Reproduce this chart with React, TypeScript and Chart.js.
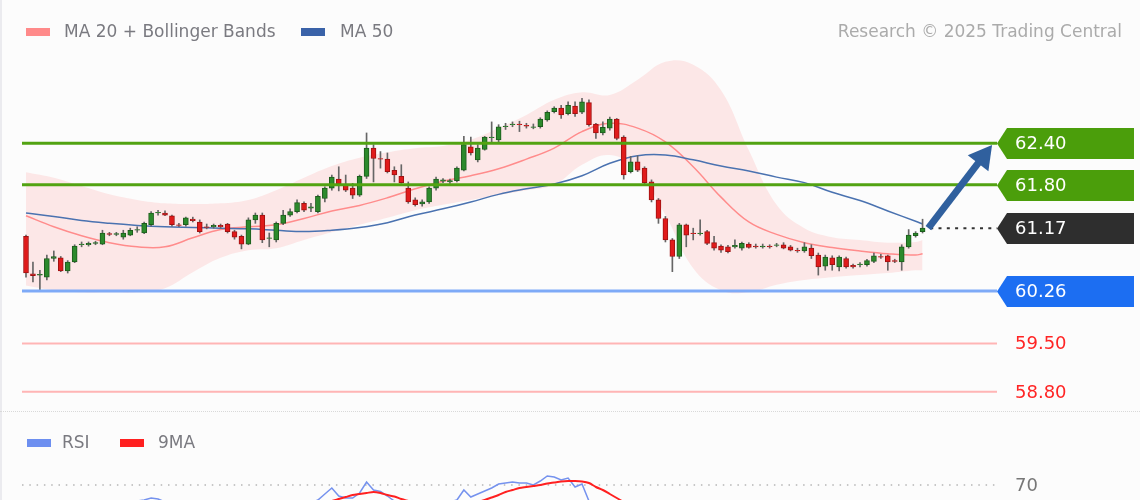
import React, { useEffect, useRef } from "react";
import { Chart, registerables } from "chart.js";

Chart.register(...registerables);

// ---------------- data ----------------
const candleOpen = [
  61.05, 60.51, 60.49, 60.46, 60.73, 60.74, 60.55, 60.68, 60.93, 60.93,
  60.95, 60.94, 61.09, 61.08, 61.04, 61.07, 61.14, 61.10, 61.22, 61.39,
  61.39, 61.35, 61.22, 61.22, 61.30, 61.26, 61.19, 61.19, 61.21, 61.23,
  61.12, 61.05, 60.94, 61.29, 61.36, 61.02, 61.00, 61.24, 61.36, 61.41,
  61.53, 61.46, 61.41, 61.60, 61.75, 61.88, 61.80, 61.75, 61.65, 61.92,
  62.33, 62.18, 62.17, 62.01, 61.92, 61.75, 61.58, 61.52, 61.55, 61.75,
  61.85, 61.84, 61.86, 62.01, 62.35, 62.16, 62.31, 62.48, 62.45, 62.64,
  62.67, 62.68, 62.66, 62.63, 62.64, 62.74, 62.86, 62.91, 62.83, 62.94,
  62.85, 62.99, 62.68, 62.55, 62.62, 62.75, 62.49, 61.99, 62.13, 62.04,
  61.84, 61.58, 61.31, 61.00, 60.76, 61.22, 61.10, 61.09, 61.12, 60.96,
  60.91, 60.90, 60.90, 60.88, 60.94, 60.91, 60.90, 60.91, 60.92, 60.93,
  60.90, 60.85, 60.84, 60.88, 60.78, 60.62, 60.74, 60.61, 60.73, 60.63,
  60.64, 60.64, 60.69, 60.76, 60.77, 60.70, 60.68, 60.90, 61.06, 61.12,
];
const candleHigh = [
  61.07, 60.68, 60.56, 60.78, 60.84, 60.76, 60.70, 60.93, 60.97, 60.97,
  60.98, 61.14, 61.11, 61.11, 61.14, 61.17, 61.19, 61.26, 61.41, 61.43,
  61.42, 61.36, 61.24, 61.33, 61.33, 61.29, 61.23, 61.23, 61.23, 61.24,
  61.14, 61.07, 61.32, 61.39, 61.39, 61.10, 61.26, 61.43, 61.45, 61.58,
  61.55, 61.53, 61.65, 61.77, 61.94, 62.06, 61.94, 61.82, 61.94, 62.55,
  62.38, 62.28, 62.26, 62.06, 62.09, 61.84, 61.61, 61.58, 61.77, 61.91,
  61.89, 61.88, 62.06, 62.50, 62.49, 62.38, 62.50, 62.71, 62.67, 62.69,
  62.71, 62.72, 62.69, 62.68, 62.77, 62.87, 62.93, 62.95, 63.00, 63.00,
  63.05, 63.03, 62.69, 62.71, 62.78, 62.76, 62.51, 62.21, 62.22, 62.06,
  61.87, 61.60, 61.34, 61.02, 61.24, 61.23, 61.17, 61.29, 61.14, 61.05,
  60.93, 60.92, 61.00, 60.97, 60.96, 60.94, 60.94, 60.93, 60.95, 60.96,
  60.92, 60.88, 60.96, 60.93, 60.81, 60.78, 60.77, 60.77, 60.75, 60.65,
  60.67, 60.72, 60.81, 60.79, 60.78, 60.72, 60.93, 61.15, 61.12, 61.30,
];
const candleLow = [
  60.46, 60.39, 60.27, 60.42, 60.69, 60.54, 60.52, 60.67, 60.90, 60.91,
  60.93, 60.93, 61.06, 61.06, 61.01, 61.06, 61.11, 61.09, 61.20, 61.36,
  61.35, 61.20, 61.19, 61.20, 61.26, 61.10, 61.16, 61.17, 61.17, 61.10,
  61.01, 60.87, 60.93, 61.24, 60.96, 60.90, 60.97, 61.22, 61.34, 61.39,
  61.41, 61.41, 61.39, 61.55, 61.72, 61.71, 61.70, 61.60, 61.63, 61.89,
  61.84, 62.04, 61.97, 61.84, 61.82, 61.53, 61.49, 61.49, 61.53, 61.72,
  61.83, 61.82, 61.84, 62.00, 62.23, 62.13, 62.30, 62.42, 62.41, 62.60,
  62.64, 62.57, 62.62, 62.61, 62.62, 62.72, 62.84, 62.76, 62.81, 62.79,
  62.83, 62.65, 62.47, 62.52, 62.59, 62.45, 61.88, 61.97, 61.99, 61.81,
  61.55, 61.24, 60.97, 60.54, 60.73, 60.90, 61.00, 61.07, 60.93, 60.85,
  60.82, 60.81, 60.88, 60.85, 60.88, 60.88, 60.88, 60.88, 60.90, 60.87,
  60.84, 60.82, 60.82, 60.73, 60.49, 60.56, 60.56, 60.55, 60.59, 60.59,
  60.61, 60.62, 60.67, 60.73, 60.56, 60.67, 60.56, 60.88, 61.04, 61.10,
];
const candleClose = [
  60.52, 60.48, 60.50, 60.73, 60.76, 60.55, 60.68, 60.91, 60.94, 60.95,
  60.96, 61.10, 61.08, 61.09, 61.10, 61.14, 61.15, 61.24, 61.39, 61.40,
  61.36, 61.22, 61.21, 61.32, 61.28, 61.12, 61.18, 61.21, 61.19, 61.12,
  61.04, 60.94, 61.29, 61.36, 61.00, 61.03, 61.24, 61.36, 61.41, 61.54,
  61.43, 61.48, 61.63, 61.75, 61.91, 61.81, 61.72, 61.65, 61.92, 62.33,
  62.18, 62.17, 61.99, 61.94, 61.83, 61.55, 61.51, 61.55, 61.75, 61.88,
  61.87, 61.86, 62.04, 62.38, 62.26, 62.33, 62.49, 62.49, 62.64, 62.65,
  62.68, 62.67, 62.65, 62.64, 62.75, 62.85, 62.91, 62.81, 62.95, 62.83,
  63.00, 62.67, 62.55, 62.63, 62.75, 62.47, 61.94, 62.13, 62.01, 61.83,
  61.58, 61.31, 61.00, 60.76, 61.22, 61.07, 61.09, 61.10, 60.95, 60.88,
  60.85, 60.83, 60.92, 60.95, 60.89, 60.90, 60.91, 60.90, 60.93, 60.88,
  60.85, 60.84, 60.90, 60.77, 60.61, 60.75, 60.64, 60.75, 60.61, 60.61,
  60.65, 60.70, 60.77, 60.75, 60.68, 60.69, 60.90, 61.07, 61.10, 61.17,
];

// moving averages / bands read at these candle positions
const maIndex = [
  0, 4, 8, 12, 16, 20, 24, 28, 32, 36, 40, 44, 48, 52, 56, 60, 64,
  68, 72, 76, 80, 84, 88, 92, 96, 100, 104, 108, 112, 116, 120, 124, 128, 129,
];
const ma20 = [
  61.35, 61.19, 61.06, 60.96, 60.90, 60.90, 61.03, 61.15, 61.19, 61.22, 61.31, 61.42, 61.50, 61.61, 61.74, 61.85, 61.93,
  62.03, 62.17, 62.33, 62.57, 62.69, 62.62, 62.42, 62.06, 61.62, 61.26, 61.08, 60.96, 60.89, 60.84, 60.80, 60.78, 60.80,
];
const ma50 = [
  61.39, 61.34, 61.28, 61.24, 61.21, 61.19, 61.18, 61.17, 61.16, 61.14, 61.12, 61.14, 61.18, 61.25, 61.36, 61.45, 61.55,
  61.66, 61.74, 61.81, 61.93, 62.11, 62.22, 62.23, 62.16, 62.07, 62.00, 61.91, 61.83, 61.69, 61.57, 61.42, 61.27, 61.23,
];
const bbUpper = [
  61.98, 61.90, 61.78, 61.66, 61.58, 61.53, 61.52, 61.53, 61.58, 61.72, 61.90, 62.07, 62.19, 62.27, 62.33, 62.36, 62.45,
  62.62, 62.81, 63.03, 63.14, 63.10, 63.32, 63.58, 63.54, 63.17, 62.30, 61.51, 61.17, 61.04, 61.00, 60.96, 60.97, 61.00,
];
const bbLower = [
  60.34, 60.27, 60.24, 60.24, 60.24, 60.30, 60.53, 60.74, 60.85, 60.88, 61.00, 61.11, 61.22, 61.32, 61.43, 61.51, 61.58,
  61.65, 61.72, 61.80, 62.09, 62.23, 62.01, 61.36, 60.59, 60.27, 60.24, 60.35, 60.42, 60.46, 60.49, 60.52, 60.56, 60.56,
];

const rsiValues = [
  40, 35, 33, 42, 44, 40, 44, 50, 50, 51,
  51, 53, 52, 52, 53, 54, 54, 55, 57, 56,
  53, 47, 46, 50, 49, 44, 46, 47, 46, 43,
  40, 37, 50, 52, 44, 44, 50, 53, 54, 54,
  51, 52, 55, 61, 67, 59, 57, 57, 62, 73,
  65, 63.5, 59, 54, 52, 46, 45, 46, 50, 53,
  53, 53, 55, 65, 58, 61, 64, 67, 71, 72,
  73, 72, 72, 70, 74, 79, 78, 75, 77, 68,
  71, 54, 47, 50, 54, 44, 33, 38, 36, 32,
  27, 22, 18, 16, 30, 28, 29, 30, 27, 26,
  26, 25, 28, 30, 29, 29, 30, 30, 31, 30,
  29, 29, 32, 29, 26, 32, 30, 34, 31, 31,
  32, 34, 37, 37, 35, 35, 42, 48, 49, 51,
];
const rsiMa9 = [
  45, 44, 42, 41, 41, 40, 40, 41, 42, 43,
  44, 45, 47, 48, 49, 50, 51, 52, 53, 54,
  54, 53, 52, 51, 51, 50, 49, 48, 47, 47,
  46, 45, 44, 45, 45, 45, 46, 47, 48, 49,
  50, 51, 52, 53, 54, 56, 58, 60, 61, 62,
  63, 62, 60, 58.5, 56, 54, 52, 50, 49, 48,
  48, 49, 50, 51, 52, 53, 55, 57.5, 60, 63,
  65, 67, 68, 69, 70, 71.5, 72.5, 73.5, 74, 74,
  73.5, 72, 68, 65, 61, 57, 53, 49, 45, 42,
  38, 34, 31, 28, 27, 26, 26, 25, 26, 26,
  27, 27, 27, 28, 28, 28, 28, 29, 29, 29,
  29, 30, 30, 30, 29, 30, 30, 30, 30, 31,
  31, 32, 32, 33, 33, 34, 35, 37, 39, 41,
];

const levelPrices = [62.4, 61.8, 61.17, 60.26, 59.5, 58.8];
const levelLabels = ["62.40", "61.80", "61.17", "60.26", "59.50", "58.80"];
const rsiLevel = 70;
const rsiLevelLabel = "70";

// ---------------- styling ----------------
const FONT = "'DejaVu Sans', sans-serif";
const X_MIN = -0.576;
const X_MAX = 139.71;
const LAST_X = 129;

const levelStyles = [
  { line: "#52a312", width: 3, box: "#4b9e0b", text: "#ffffff" },
  { line: "#52a312", width: 3, box: "#4b9e0b", text: "#ffffff" },
  { line: "#333333", width: 2, box: "#2e2e2e", text: "#ffffff", dash: [3, 5.3] },
  { line: "#7eaaf7", width: 3, box: "#1c6ef2", text: "#ffffff" },
  { line: "#ffb5b5", width: 2, box: null, text: "#ff2424" },
  { line: "#ffb5b5", width: 2, box: null, text: "#ff2424" },
];

const overlayPlugin = {
  id: "overlay",
  afterDraw(chart: any) {
    const { ctx, chartArea, scales } = chart;
    const xs = scales.x;
    const ys = scales.y;
    ctx.save();
    // arrow from last close to the first target
    const sx = xs.getPixelForValue(LAST_X + 0.83);
    const sy = ys.getPixelForValue(levelPrices[2]);
    const tx = xs.getPixelForValue(139.0);
    const ty = ys.getPixelForValue(levelPrices[0]) + 1.7;
    const ang = Math.atan2(ty - sy, tx - sx);
    const headLen = 23;
    const headHalf = 13;
    const bx = tx - headLen * Math.cos(ang);
    const by = ty - headLen * Math.sin(ang);
    ctx.strokeStyle = "#30609e";
    ctx.fillStyle = "#30609e";
    ctx.lineWidth = 7;
    ctx.beginPath();
    ctx.moveTo(sx, sy);
    ctx.lineTo(bx + 2 * Math.cos(ang), by + 2 * Math.sin(ang));
    ctx.stroke();
    ctx.beginPath();
    ctx.moveTo(tx, ty);
    ctx.lineTo(bx + headHalf * Math.sin(ang), by - headHalf * Math.cos(ang));
    ctx.lineTo(bx - headHalf * Math.sin(ang), by + headHalf * Math.cos(ang));
    ctx.closePath();
    ctx.fill();

    // labels on the right
    const left = chartArea.right;
    levelPrices.forEach((p, k) => {
      const st = levelStyles[k];
      const yc = Math.round(ys.getPixelForValue(p)) + 0.5;
      if (st.box) {
        ctx.fillStyle = st.box;
        ctx.beginPath();
        ctx.moveTo(left, yc);
        ctx.lineTo(left + 10, yc - 15.5);
        ctx.lineTo(1134, yc - 15.5);
        ctx.lineTo(1134, yc + 15.5);
        ctx.lineTo(left + 10, yc + 15.5);
        ctx.closePath();
        ctx.fill();
      }
      ctx.fillStyle = st.text;
      ctx.font = `18px ${FONT}`;
      ctx.textBaseline = "middle";
      ctx.textAlign = "left";
      ctx.fillText(levelLabels[k], left + 18, yc + 1);
    });
    ctx.restore();
  },
};

const rsiLabelPlugin = {
  id: "rsiLabel",
  afterDraw(chart: any) {
    const { ctx, chartArea, scales } = chart;
    const yc = scales.y.getPixelForValue(rsiLevel);
    ctx.save();
    ctx.fillStyle = "#777777";
    ctx.font = `18px ${FONT}`;
    ctx.textBaseline = "middle";
    ctx.fillText(rsiLevelLabel, chartArea.right + 18, yc + 1);
    ctx.restore();
  },
};

export default function App() {
  const mainRef = useRef<HTMLCanvasElement>(null);
  const rsiRef = useRef<HTMLCanvasElement>(null);

  useEffect(() => {
    const idx = candleOpen.map((_, i) => i);
    const up = idx.map((i) => candleClose[i] >= candleOpen[i]);
    const series = (vals: number[]) => maIndex.map((x, k) => ({ x, y: vals[k] }));

    const levelDatasets = levelPrices.map((p, k) => {
      const st = levelStyles[k];
      const from = k === 2 ? LAST_X + 1.1 : X_MIN;
      return {
        type: "line",
        data: [
          { x: from, y: p },
          { x: X_MAX, y: p },
        ],
        borderColor: st.line,
        borderWidth: st.width,
        borderDash: st.dash || [],
        pointRadius: 0,
        fill: false,
        order: 1,
      };
    });

    const main = new Chart(mainRef.current as HTMLCanvasElement, {
      type: "bar",
      data: {
        datasets: [
          {
            type: "line",
            data: series(bbUpper),
            borderWidth: 0,
            borderColor: "rgba(0,0,0,0)",
            backgroundColor: "rgba(255,160,160,0.22)",
            fill: "+1",
            pointRadius: 0,
            tension: 0.4,
            order: 20,
          },
          {
            type: "line",
            data: series(bbLower),
            borderWidth: 0,
            borderColor: "rgba(0,0,0,0)",
            fill: false,
            pointRadius: 0,
            tension: 0.4,
            order: 20,
          },
          {
            type: "line",
            data: series(ma50),
            borderColor: "#4a72b0",
            borderWidth: 1.5,
            pointRadius: 0,
            tension: 0.4,
            fill: false,
            order: 10,
          },
          {
            type: "line",
            data: series(ma20),
            borderColor: "#ff8c8c",
            borderWidth: 1.5,
            pointRadius: 0,
            tension: 0.4,
            fill: false,
            order: 10,
          },
          {
            type: "bar",
            data: idx.map((i) => ({ x: i, y: [candleLow[i], candleHigh[i]] })),
            backgroundColor: "#666666",
            barThickness: 1,
            grouped: false,
            borderWidth: 0,
            order: 5,
          },
          {
            type: "bar",
            data: idx.map((i) => ({ x: i, y: [candleOpen[i], candleClose[i]] })),
            backgroundColor: up.map((u) => (u ? "#2c8a2c" : "#e01b1b")),
            borderColor: up.map((u) => (u ? "#1c5c1c" : "#9e1212")),
            borderWidth: 1,
            borderSkipped: false,
            barThickness: 5,
            grouped: false,
            order: 4,
          },
          ...levelDatasets,
        ] as any,
      },
      options: {
        responsive: false,
        animation: false,
        events: [],
        layout: { padding: { left: 22, right: 143, top: 40, bottom: 3 } },
        plugins: {
          legend: { display: false },
          tooltip: { enabled: false },
          title: { display: false },
        },
        scales: {
          x: { type: "linear", min: X_MIN, max: X_MAX, display: false, offset: false },
          y: { type: "linear", min: 58.535, max: 63.897, display: false, beginAtZero: false },
        },
      } as any,
      plugins: [overlayPlugin],
    });

    const rsiChart = new Chart(rsiRef.current as HTMLCanvasElement, {
      type: "line",
      data: {
        datasets: [
          {
            data: idx.map((i) => ({ x: i, y: rsiMa9[i] })),
            borderColor: "#ff2020",
            borderWidth: 2,
            pointRadius: 0,
            tension: 0.3,
            order: 0,
          },
          {
            data: idx.map((i) => ({ x: i, y: rsiValues[i] })),
            borderColor: "#7592ee",
            borderWidth: 1.5,
            pointRadius: 0,
            tension: 0,
            order: 1,
          },
          {
            data: [
              { x: X_MIN, y: rsiLevel },
              { x: X_MAX, y: rsiLevel },
            ],
            borderColor: "#b5b5b5",
            borderWidth: 1.5,
            borderDash: [1.5, 5.8],
            pointRadius: 0,
            order: 2,
          },
        ] as any,
      },
      options: {
        responsive: false,
        animation: false,
        events: [],
        layout: { padding: { left: 22, right: 143, top: 42, bottom: 8 } },
        plugins: { legend: { display: false }, tooltip: { enabled: false } },
        scales: {
          x: { type: "linear", min: X_MIN, max: X_MAX, display: false },
          y: { type: "linear", min: 0, max: 100, display: false },
        },
      } as any,
      plugins: [rsiLabelPlugin],
    });

    return () => {
      main.destroy();
      rsiChart.destroy();
    };
  }, []);

  const textStyle: React.CSSProperties = {
    position: "absolute",
    fontSize: 17,
    color: "#7a7a80",
    lineHeight: "20px",
    whiteSpace: "nowrap",
  };
  const swatch = (left: number, top: number, color: string): React.CSSProperties => ({
    position: "absolute",
    left,
    top,
    width: 24,
    height: 8,
    background: color,
  });

  return (
    <div
      style={{
        position: "fixed",
        left: 0,
        top: 0,
        width: 1140,
        height: 500,
        overflow: "hidden",
        background: "#fcfcfc",
        fontFamily: FONT,
      }}
    >
      <div style={{ position: "absolute", left: 0, top: 0, width: 2, height: 500, background: "#ebebef" }} />
      <canvas ref={mainRef} width={1140} height={413} style={{ position: "absolute", left: 0, top: 0 }} />
      <canvas ref={rsiRef} width={1140} height={150} style={{ position: "absolute", left: 0, top: 413 }} />

      <div style={swatch(26, 28, "#ff8a8a")} />
      <div style={{ ...textStyle, left: 64, top: 21 }}>MA 20 + Bollinger Bands</div>
      <div style={swatch(301, 28, "#3a62a8")} />
      <div style={{ ...textStyle, left: 340, top: 21 }}>MA 50</div>
      <div style={{ ...textStyle, right: 18, top: 21, color: "#ababab" }}>Research © 2025 Trading Central</div>

      <div
        style={{
          position: "absolute",
          left: 0,
          top: 411,
          width: 1140,
          borderTop: "1px dotted #d9d9d9",
        }}
      />

      <div style={swatch(27, 439, "#6d8ff0")} />
      <div style={{ ...textStyle, left: 62, top: 432 }}>RSI</div>
      <div style={swatch(120, 439, "#ff2020")} />
      <div style={{ ...textStyle, left: 158, top: 432 }}>9MA</div>
    </div>
  );
}
